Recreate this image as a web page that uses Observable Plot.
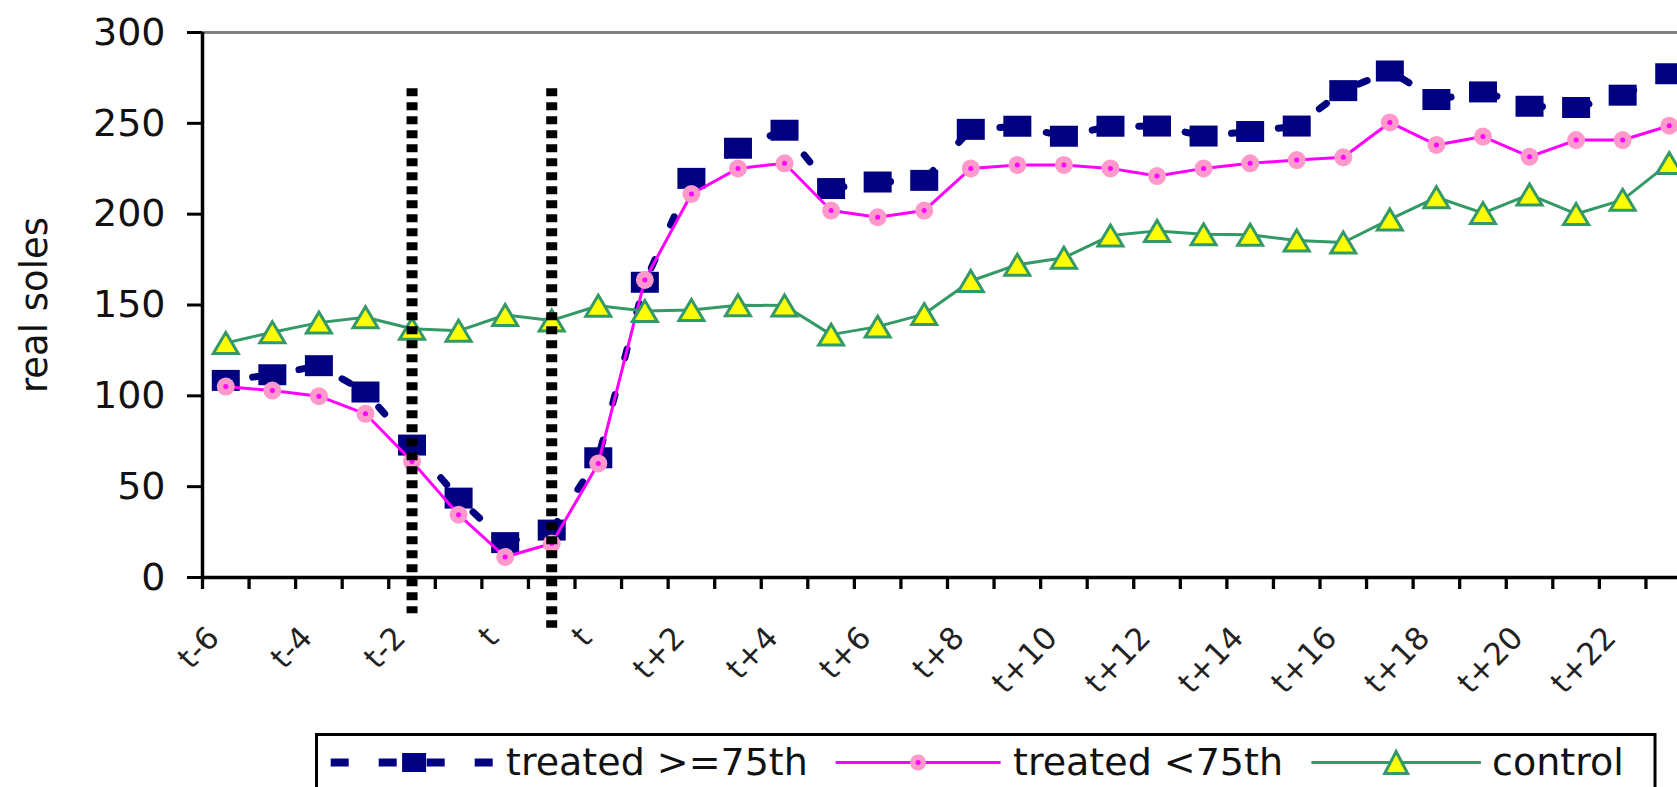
<!DOCTYPE html>
<html>
<head>
<meta charset="utf-8">
<script src="https://cdn.jsdelivr.net/npm/d3@7"></script>
<script src="https://cdn.jsdelivr.net/npm/@observablehq/plot@0.6"></script>
<style>
  html, body { margin: 0; padding: 0; background: white; overflow: hidden; }
  #chart svg { display: block; }
  #legend { height: 67px; position: relative; }
  #legend svg { position: absolute; left: 315px; top: 13px; }
</style>
</head>
<body>
<div id="chart"></div>
<div id="legend"></div>
<script>
// Period labels, one per category on the x axis
const periods = [
  "t-6", "t-5", "t-4", "t-3", "t-2", "t-1", "t", "t", "t", "t+1",
  "t+2", "t+3", "t+4", "t+5", "t+6", "t+7", "t+8", "t+9", "t+10", "t+11",
  "t+12", "t+13", "t+14", "t+15", "t+16", "t+17", "t+18", "t+19", "t+20", "t+21",
  "t+22", "t+23"
];

// Mean real soles by group
const treatedHigh = [
  108.5, 111.6, 116.6, 102.1, 72.9, 43.7, 19.2, 26.1, 65.9, 162.5,
  219.7, 236.3, 246.2, 214.1, 217.7, 218.6, 246.7, 248.4, 242.9, 248.4,
  248.5, 243.0, 245.5, 248.5, 268.0, 278.8, 263.1, 267.3, 259.4, 258.7,
  265.5, 277.3
];
const treatedLow = [
  105.1, 102.9, 99.8, 90.1, 63.9, 34.6, 11.3, 18.7, 62.8, 163.8,
  211.1, 225.2, 228.0, 202.0, 198.3, 202.0, 225.2, 227.1, 227.1, 225.2,
  221.0, 225.2, 228.0, 229.8, 231.3, 250.5, 238.1, 242.7, 231.6, 240.8,
  240.8, 248.7
];
const control = [
  129.1, 135.0, 140.3, 143.3, 136.9, 135.8, 144.5, 141.5, 149.6, 146.7,
  147.3, 149.9, 149.7, 133.7, 138.1, 145.0, 163.2, 172.2, 176.0, 188.2,
  190.8, 188.9, 188.7, 185.5, 184.4, 197.1, 209.3, 200.6, 210.8, 200.1,
  207.9, 228.1
];

// Event markers: category index and vertical extent (real soles)
const eventIndex = [4, 7];
const eventTop = [269, 269];
const eventBottom = [-20, -28];

const yTicks = [0, 50, 100, 150, 200, 250, 300];
const seriesNames = ["treated >=75th", "treated <75th", "control"];

// Tables built from the arrays above
const rows = periods.map((p, i) => ({
  i, period: p, high: treatedHigh[i], low: treatedLow[i], ctrl: control[i]
}));
const events = eventIndex.map((i, k) => ({ i, top: eventTop[k], bottom: eventBottom[k] }));

const xDomain = [-0.5, periods.length - 0.5];
const boundaries = d3.range(periods.length + 1).map(k => k - 0.5);
const labelIdx = d3.range(0, periods.length, 2);

// Marker shapes
const wideSquare = {
  draw(ctx) { ctx.rect(-14, -10.5, 28, 21); }
};
const triangle = {
  draw(ctx) {
    ctx.moveTo(0, -10.5);
    ctx.lineTo(12.5, 10.5);
    ctx.lineTo(-12.5, 10.5);
    ctx.closePath();
  }
};

const NAVY = "#000080", MAGENTA = "#ff00ff", PINK = "#ff99cc",
      GREEN = "#339966", YELLOW = "#ffff00";

const chart = Plot.plot({
  width: 1677,
  height: 720,
  marginLeft: 202,
  marginRight: -15,
  marginTop: 32,
  marginBottom: 143,
  style: { fontFamily: "DejaVu Sans", background: "white" },
  x: { type: "linear", domain: xDomain, axis: null },
  y: { domain: [0, 300], axis: null },
  marks: [
    // plot-area top border
    Plot.ruleY([300], { stroke: "#808080", strokeWidth: 3 }),
    // value axis
    Plot.axisY({ ticks: yTicks, tickSize: 15, tickPadding: 22, fontSize: 38,
                 strokeWidth: 3, label: null, fill: "#111" }),
    Plot.ruleX([xDomain[0]], { strokeWidth: 3.5 }),
    // category axis: ticks between categories, labels every other period
    Plot.axisX({ ticks: boundaries, tickSize: 12, tickFormat: () => "",
                 strokeWidth: 3.3, label: null }),
    Plot.axisX({ ticks: labelIdx, tickSize: 0, tickPadding: 55, tickRotate: -46,
                 tickFormat: i => periods[i], fontSize: 31, dx: -12, label: null,
                 fill: "#222" }),
    Plot.ruleY([0], { strokeWidth: 3.5 }),
    Plot.text(["real soles"], { frameAnchor: "left", textAnchor: "middle", rotate: -90,
                                dx: -167, fontSize: 37, fill: "#111" }),

    // treated >= 75th
    Plot.line(rows, { x: "i", y: "high", stroke: NAVY, strokeWidth: 7,
                      strokeDasharray: "9,38", strokeDashoffset: 20 }),
    Plot.dot(rows, { x: "i", y: "high", symbol: wideSquare, fill: NAVY, stroke: null }),

    // treated < 75th
    Plot.line(rows, { x: "i", y: "low", stroke: MAGENTA, strokeWidth: 3 }),
    Plot.dot(rows, { x: "i", y: "low", r: 9, fill: PINK, stroke: null }),
    Plot.dot(rows, { x: "i", y: "low", r: 2.5, fill: MAGENTA, stroke: null }),

    // control
    Plot.line(rows, { x: "i", y: "ctrl", stroke: GREEN, strokeWidth: 3 }),
    Plot.dot(rows, { x: "i", y: "ctrl", symbol: triangle, fill: YELLOW,
                     stroke: GREEN, strokeWidth: 3 }),

    // event lines
    Plot.ruleX(events, { x: "i", y1: "top", y2: "bottom", stroke: "black",
                         strokeWidth: 11, strokeDasharray: "8,6" })
  ]
});
document.getElementById("chart").append(chart);

// Legend
const lg = d3.select("#legend").append("svg")
  .attr("width", 1362).attr("height", 54)
  .style("font-family", "DejaVu Sans");
lg.append("rect").attr("x", 1.5).attr("y", 1.5).attr("width", 1338.5).attr("height", 90)
  .attr("fill", "white").attr("stroke", "black").attr("stroke-width", 3);

const ly = 29.5, base = 42;
const items = [
  { x0: 15.7, x1: 182.5, tx: 191 },
  { x0: 520.6, x1: 685.6, tx: 698 },
  { x0: 996.4, x1: 1165.9, tx: 1177 }
];
// navy dashed sample
lg.append("line").attr("x1", items[0].x0).attr("x2", items[0].x1)
  .attr("y1", ly).attr("y2", ly).attr("stroke", NAVY).attr("stroke-width", 8)
  .attr("stroke-dasharray", "18,30");
let cx = (items[0].x0 + items[0].x1) / 2;
lg.append("rect").attr("x", cx - 12).attr("y", ly - 9.5).attr("width", 24).attr("height", 19)
  .attr("fill", NAVY);
// magenta sample
lg.append("line").attr("x1", items[1].x0).attr("x2", items[1].x1)
  .attr("y1", ly).attr("y2", ly).attr("stroke", MAGENTA).attr("stroke-width", 3);
cx = (items[1].x0 + items[1].x1) / 2;
lg.append("circle").attr("cx", cx).attr("cy", ly).attr("r", 8).attr("fill", PINK);
lg.append("circle").attr("cx", cx).attr("cy", ly).attr("r", 2.5).attr("fill", MAGENTA);
// green sample
lg.append("line").attr("x1", items[2].x0).attr("x2", items[2].x1)
  .attr("y1", ly).attr("y2", ly).attr("stroke", GREEN).attr("stroke-width", 3);
cx = (items[2].x0 + items[2].x1) / 2;
lg.append("path").attr("d", `M${cx},${ly - 11}L${cx + 11.5},${ly + 11}L${cx - 11.5},${ly + 11}Z`)
  .attr("fill", YELLOW).attr("stroke", GREEN).attr("stroke-width", 3);

items.forEach((it, k) => {
  lg.append("text").attr("x", it.tx).attr("y", base).attr("font-size", 38)
    .attr("fill", "#111").text(seriesNames[k]);
});
</script>
</body>
</html>
